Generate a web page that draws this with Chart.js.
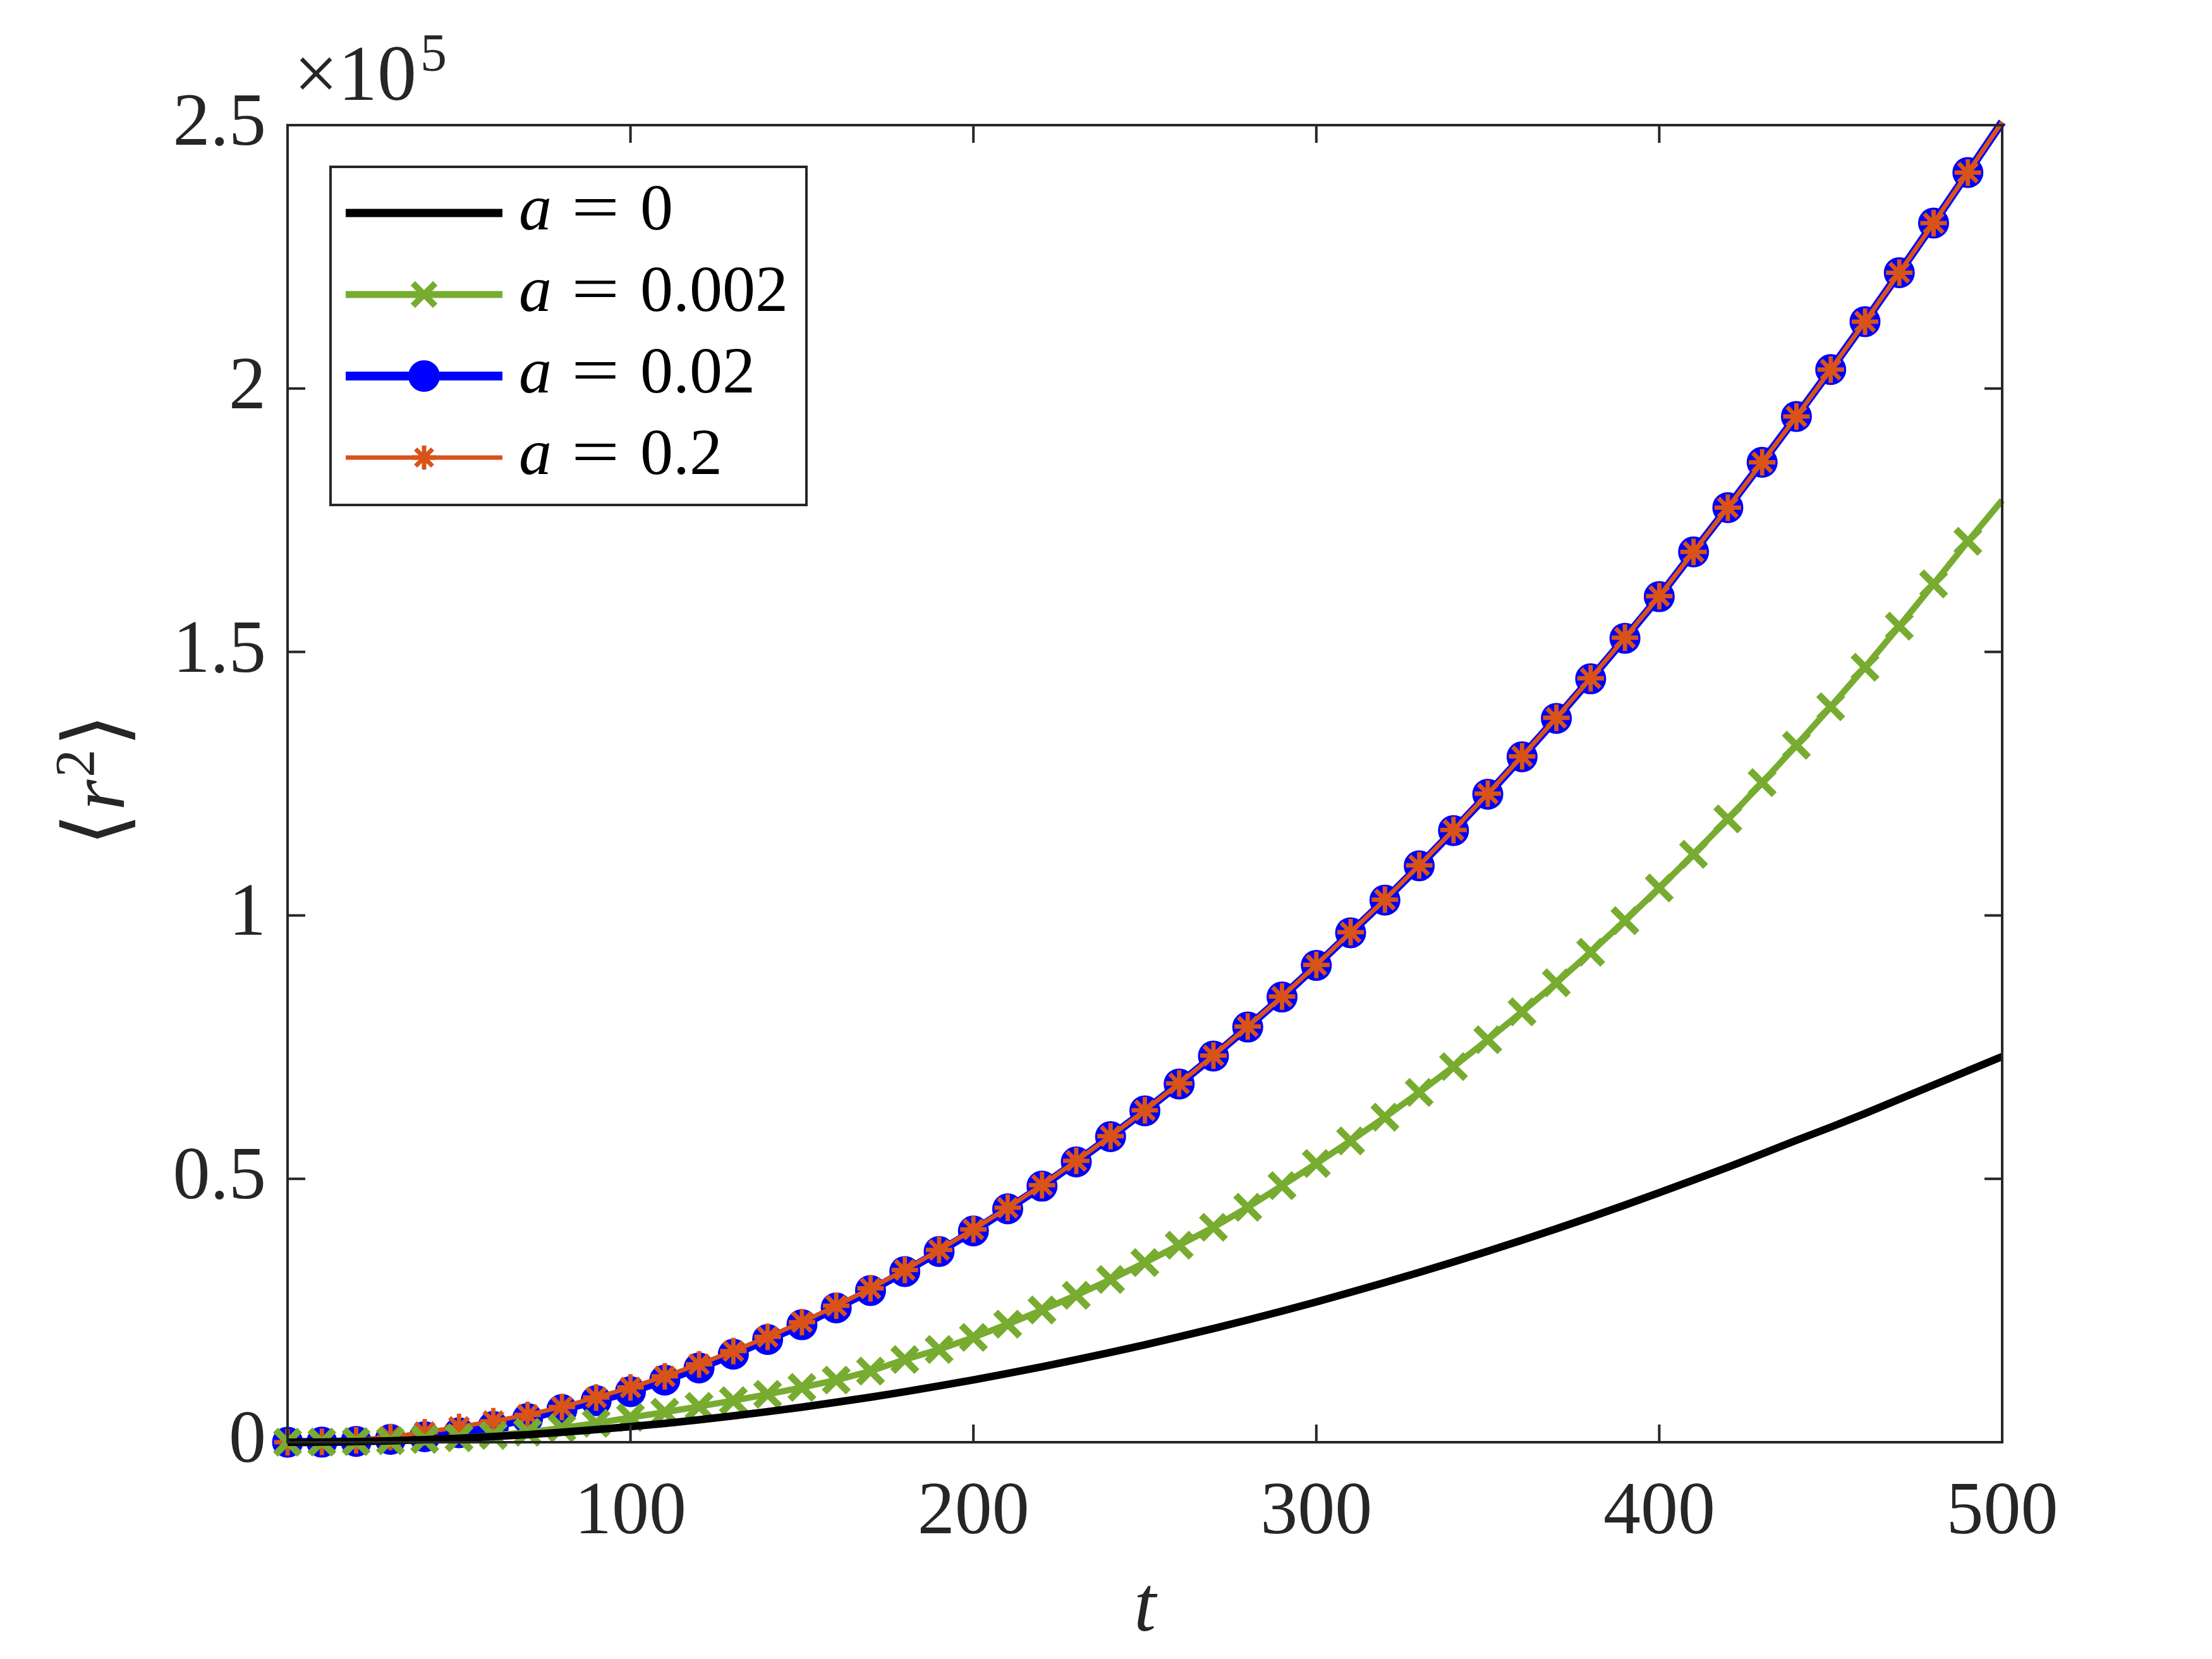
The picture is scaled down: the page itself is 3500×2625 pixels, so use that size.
<!DOCTYPE html>
<html>
<head>
<meta charset="utf-8">
<script src="https://cdn.jsdelivr.net/npm/chart.js@4.4.1/dist/chart.umd.min.js"></script>
<style>
  html, body { margin: 0; padding: 0; background: #fff; }
  canvas { display: block; }
</style>
</head>
<body>
<canvas id="c" width="3500" height="2625"></canvas>
<script>
// ---------------- data ----------------
const T = [0,10,20,30,40,50,60,70,80,90,100,110,120,130,140,150,160,170,180,190,200,
  210,220,230,240,250,260,270,280,290,300,310,320,330,340,350,360,370,380,390,400,
  410,420,430,440,450,460,470,480,490,500];

const R2_A0 = [0,30,118,266,474,740,1066,1450,1894,2398,
  2960,3580,4260,5000,5800,6660,7580,8550,9590,10690,
  11840,13050,14330,15660,17050,18500,20010,21580,23210,24890,
  26640,28450,30310,32230,34220,36260,38360,40520,42740,45020,
  47360,49760,52210,54730,57310,59800,62400,65100,67800,70500,
  73200];

const R2_A0002 = [0,30,120,280,520,850,1300,1900,2700,3600,
  4700,5700,6800,7900,9100,10400,11800,13500,15700,17600,
  19900,22400,25100,27900,30900,34100,37400,40800,44600,48700,
  52900,57200,61700,66400,71300,76400,81700,87200,93000,99000,
  105200,111600,118300,125200,132300,139600,147100,154900,162900,171000,
  178800];

const R2_A002 = [0,20,150,550,1050,1800,3000,4500,6200,7900,
  9600,11800,14100,16700,19500,22300,25500,28800,32400,36200,
  40100,44300,48600,53200,58000,62900,68000,73300,78800,84500,
  90500,96700,102900,109400,116100,123000,130100,137400,144900,152600,
  160500,169000,177400,186000,194700,203600,212700,222000,231400,241000,
  250600];

const R2_A02 = [0,60,350,1000,1900,2900,4000,5200,6700,8500,
  10400,12500,14800,17300,20000,22800,25900,29200,32700,36500,
  40400,44500,48800,53400,58100,63000,68100,73400,78900,84600,
  90600,96800,103000,109500,116200,123100,130200,137500,145000,152700,
  160600,169000,177400,186000,194700,203600,212700,222000,231400,241000,
  250600];

const A_LABELS = ['0', '0.002', '0.02', '0.2'];
const X_TICKS = [100, 200, 300, 400, 500];
const Y_TICKS = [0, 50000, 100000, 150000, 200000, 250000];
const Y_EXPONENT = '5';
const X_TITLE = 't';

// ---------------- styling ----------------
const SERIF = '"Liberation Serif", "DejaVu Serif", serif';
const AXIS_COLOR = '#262626';
const C_BLACK = '#000000', C_GREEN = '#77AC30', C_BLUE = '#0000FF', C_ORANGE = '#D95319';

const toXY = (ys) => T.map((t, i) => ({ x: t, y: ys[i] }));
const markerEvery = (r) => (ctx) => (ctx.dataIndex < T.length - 1 ? r : 0);

const datasets = [
  { label: 'a = ' + A_LABELS[0], data: toXY(R2_A0), borderColor: C_BLACK, borderWidth: 12,
    pointRadius: 0, order: 0, clip: false },
  { label: 'a = ' + A_LABELS[1], data: toXY(R2_A0002), borderColor: C_GREEN, borderWidth: 10,
    pointStyle: 'crossRot', pointRadius: markerEvery(27), pointBorderWidth: 11,
    pointBorderColor: C_GREEN, pointBackgroundColor: C_GREEN, order: 1, clip: false },
  { label: 'a = ' + A_LABELS[2], data: toXY(R2_A002), borderColor: C_BLUE, borderWidth: 13,
    pointStyle: 'circle', pointRadius: markerEvery(23), pointBorderWidth: 3,
    pointBorderColor: C_BLUE, pointBackgroundColor: C_BLUE, order: 3, clip: false },
  { label: 'a = ' + A_LABELS[3], data: toXY(R2_A02), borderColor: C_ORANGE, borderWidth: 7,
    pointStyle: 'star', pointRadius: markerEvery(21), pointBorderWidth: 7,
    pointBorderColor: C_ORANGE, pointBackgroundColor: C_ORANGE, order: 2, clip: false }
];
datasets.forEach(d => { d.fill = false; d.tension = 0; d.borderJoinStyle = 'round'; d.pointHoverRadius = 0; });

function drawMarker(ctx, style, x, y, r, bw, color) {
  if (Chart.helpers && Chart.helpers.drawPoint) {
    ctx.save();
    ctx.strokeStyle = color; ctx.fillStyle = color; ctx.lineWidth = bw;
    Chart.helpers.drawPoint(ctx, { pointStyle: style, radius: r, borderWidth: bw, rotation: 0 }, x, y);
    ctx.restore();
  }
}

const framePlugin = {
  id: 'matlabFrame',
  afterDatasetsDraw(chart) {
    const { ctx, chartArea: a, scales } = chart;
    const xs = scales.x, ys = scales.y;
    ctx.save();
    ctx.strokeStyle = AXIS_COLOR;
    ctx.lineWidth = 4;
    ctx.lineCap = 'butt';
    const TL = 28;
    ctx.beginPath();
    X_TICKS.forEach(v => {
      const px = xs.getPixelForValue(v);
      ctx.moveTo(px, a.bottom); ctx.lineTo(px, a.bottom - TL);
      ctx.moveTo(px, a.top); ctx.lineTo(px, a.top + TL);
    });
    Y_TICKS.forEach(v => {
      const py = ys.getPixelForValue(v);
      ctx.moveTo(a.left, py); ctx.lineTo(a.left + TL, py);
      ctx.moveTo(a.right, py); ctx.lineTo(a.right - TL, py);
    });
    ctx.stroke();
    ctx.strokeRect(a.left, a.top, a.right - a.left, a.bottom - a.top);

    // exponent label  x10^5
    ctx.fillStyle = AXIS_COLOR;
    ctx.textBaseline = 'alphabetic';
    ctx.textAlign = 'left';
    ctx.font = '124px ' + SERIF;
    ctx.fillText('\u00D710', a.left + 10, 158);
    const w10 = ctx.measureText('\u00D710').width;
    ctx.font = '84px ' + SERIF;
    ctx.fillText(Y_EXPONENT, a.left + 10 + w10 + 6, 112);

    // x title
    ctx.font = 'italic 125px ' + SERIF;
    ctx.textAlign = 'center';
    ctx.fillText(X_TITLE, (a.left + a.right) / 2, 2580);

    // y title  <r^2>
    ctx.save();
    ctx.translate(196, (a.top + a.bottom) / 2);
    ctx.rotate(-Math.PI / 2);
    const parts = [
      { s: '\u27E8', f: '135px ' + SERIF, dy: 0 },
      { s: 'r', f: 'italic 125px ' + SERIF, dy: 0 },
      { s: '2', f: '88px ' + SERIF, dy: -48 },
      { s: '\u27E9', f: '135px ' + SERIF, dy: 0 }
    ];
    let tot = 0;
    parts.forEach(p => { ctx.font = p.f; p.w = ctx.measureText(p.s).width; tot += p.w; });
    let cx = -tot / 2;
    ctx.textAlign = 'left';
    parts.forEach(p => { ctx.font = p.f; ctx.fillText(p.s, cx, p.dy); cx += p.w + 4; });
    ctx.restore();

    // legend
    const L = { x0: 523, y0: 264, x1: 1276, y1: 799 };
    ctx.fillStyle = '#ffffff';
    ctx.fillRect(L.x0, L.y0, L.x1 - L.x0, L.y1 - L.y0);
    ctx.strokeStyle = AXIS_COLOR;
    ctx.lineWidth = 4;
    ctx.strokeRect(L.x0, L.y0, L.x1 - L.x0, L.y1 - L.y0);
    const rowY = [337, 466, 595, 724];
    const legendStyles = [
      { lw: 13, style: null, r: 0, bw: 0 },
      { lw: 11, style: 'crossRot', r: 25, bw: 10 },
      { lw: 14, style: 'circle', r: 24, bw: 2 },
      { lw: 7, style: 'star', r: 19, bw: 7 }
    ];
    chart.data.datasets.forEach((d, i) => {
      const y = rowY[i];
      const st = legendStyles[i];
      ctx.strokeStyle = d.borderColor;
      ctx.lineWidth = st.lw;
      ctx.beginPath(); ctx.moveTo(547, y); ctx.lineTo(795, y); ctx.stroke();
      if (st.style) drawMarker(ctx, st.style, 671, y, st.r, st.bw, d.borderColor);
      ctx.fillStyle = '#000000';
      ctx.textAlign = 'left';
      ctx.font = 'italic 104px ' + SERIF;
      ctx.fillText('a', 821, y + 26);
      ctx.font = '104px ' + SERIF;
      ctx.save();
      ctx.translate(942, y + 26);
      ctx.scale(1.3, 1);
      ctx.textAlign = 'center';
      ctx.fillText('=', 0, 0);
      ctx.restore();
      ctx.textAlign = 'left';
      ctx.fillText(A_LABELS[i], 1013, y + 26);
    });
    ctx.restore();
  }
};

new Chart(document.getElementById('c'), {
  type: 'line',
  data: { datasets },
  options: {
    responsive: false,
    devicePixelRatio: 1,
    animation: false,
    events: [],
    layout: { padding: { left: 0, top: 198, right: 332, bottom: 0 } },
    plugins: { legend: { display: false }, tooltip: { enabled: false }, title: { display: false } },
    scales: {
      x: {
        type: 'linear', min: 0, max: 500,
        afterBuildTicks: (s) => { s.ticks = X_TICKS.map(v => ({ value: v })); },
        afterFit: (s) => { s.height = 343; },
        grid: { display: false, drawTicks: false },
        border: { display: false },
        ticks: { color: AXIS_COLOR, font: { family: SERIF, size: 118 }, padding: 42, maxRotation: 0, autoSkip: false }
      },
      y: {
        type: 'linear', min: 0, max: 250000,
        afterBuildTicks: (s) => { s.ticks = Y_TICKS.map(v => ({ value: v })); },
        afterFit: (s) => { s.width = 455; },
        grid: { display: false, drawTicks: false },
        border: { display: false },
        ticks: { color: AXIS_COLOR, font: { family: SERIF, size: 118 }, padding: 34,
                 callback: (v) => String(v / 1e5) }
      }
    }
  },
  plugins: [framePlugin]
});
</script>
</body>
</html>
